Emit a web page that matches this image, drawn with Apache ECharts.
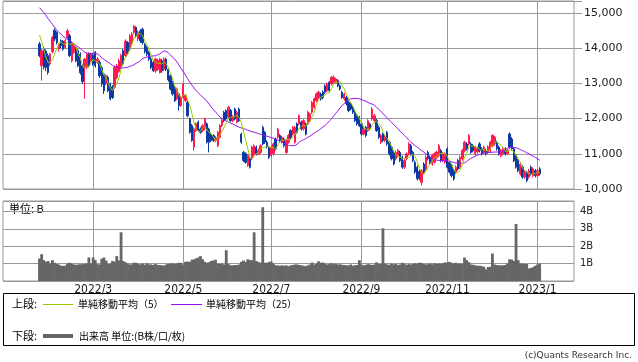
<!DOCTYPE html>
<html>
<head>
<meta charset="utf-8">
<script src="https://cdn.jsdelivr.net/npm/echarts@6/dist/echarts.min.js"></script>
<style>
html,body{margin:0;padding:0;background:#fff;}
#c{width:638px;height:362px;}
</style>
</head>
<body>
<div id="c"></div>
<script>
// ---- calendar (Tokyo trading days) ----
const axisStart = '2021-12-24';
const axisDays = 267;
const holidays = ['2021-12-31','2022-01-03','2022-01-10','2022-02-11','2022-02-23','2022-03-21','2022-04-29',
  '2022-05-03','2022-05-04','2022-05-05','2022-07-18','2022-08-11','2022-09-19','2022-09-23','2022-10-10',
  '2022-11-03','2022-11-23','2023-01-02','2023-01-03','2023-01-09'];
const tickLabels = ['2022/3','2022/5','2022/7','2022/9','2022/11','2023/1'];
const tickDates  = ['2022-03-01','2022-05-02','2022-07-01','2022-09-01','2022-11-01','2023-01-04'];
const dataStart = '2022-01-21';

// ---- daily values from 2022-01-21 to 2023-01-05 ----
const opens = [
14120,13500,13970,13920,13790,13550,13900,14510,14450,13980,
14210,14200,14020,14300,14350,13640,13880,14020,13930,13830,
13500,13450,13450,13830,13640,13790,13880,13600,13600,13450,
13260,12980,13170,12980,12900,12890,13170,13340,13450,13930,
13790,14160,13970,14160,14450,14590,14260,14490,14540,14100,
14020,13880,13690,13600,13360,13400,13310,13640,13400,13690,
13400,13220,13030,12890,12560,12700,12370,12600,12510,12460,
11990,11800,11190,11660,11900,11700,11660,11710,11850,11700,
11560,11520,11380,11230,11470,11800,12180,12230,12040,12230,
11940,12270,11900,12270,11560,11040,11000,10670,10860,10860,
10950,11190,11000,11040,11750,11610,11330,11190,10950,11000,
11420,11470,11520,11330,11420,11040,11330,11660,11560,11330,
11850,11850,11900,11710,11850,11850,11940,12180,12320,12510,
12600,12700,12750,12930,12790,13030,12980,13030,13030,13080,
12930,12750,12560,12600,12460,12420,12300,12180,12080,12040,
11850,11560,11750,11660,11850,11990,11940,11940,11750,11330,
11560,11380,11610,11330,11190,11040,10860,10950,11040,10900,
10620,10860,11000,11230,11040,10760,10620,10500,10190,10710,
10570,11040,10900,10710,10760,10900,10950,11090,10810,10760,
11140,10760,10670,10520,10480,10810,10620,10860,11090,11280,
11280,11280,11230,11000,11050,11280,11140,11040,11090,11040,
11090,11230,11280,11330,11190,10950,11000,11140,11000,11560,
11420,11140,10950,10810,10430,10620,10340,10480,10340,10620,
10380,10520,10380,10570];
const closes = [
13790,13930,13460,13450,13310,13830,14300,14260,14160,14120,
14070,13970,14210,14490,13790,14160,14070,13640,13500,13300,
13050,13690,13830,13500,13830,13550,13500,13690,13220,12980,
12790,13220,12790,12560,12600,13450,13500,13640,13790,13550,
14200,13880,14350,14400,14630,14350,14450,14210,14160,13900,
13830,13690,13450,13360,13690,13650,13690,13360,13690,13400,
13100,12840,12700,12510,12840,12370,12600,12980,12650,12080,
11610,11380,11700,11850,11660,11610,11800,11990,11330,11330,
11380,11380,11450,11610,11800,11950,11940,11990,12320,11940,
12050,11990,12180,11940,11330,10810,10760,10950,10620,11190,
11230,11000,11100,11230,11280,11330,11200,10900,11190,11280,
11140,11700,11380,11470,11230,11370,11520,11470,11750,11750,
11610,12080,11710,11940,11560,12180,12130,12460,12560,12700,
12750,12560,12600,12750,12980,12790,13170,13170,13120,12930,
12840,12600,12700,12420,12230,12270,12180,11940,11850,11800,
11560,11700,11520,11940,11710,12270,12080,11660,11470,11520,
11380,11500,11280,11000,10860,10710,11040,11090,10810,10620,
10810,11000,11280,11000,10810,10480,10290,10300,10520,10480,
10900,10860,10760,10950,11000,11050,11230,10810,11000,11000,
10620,10480,10380,10290,10620,10570,10900,11090,11330,11140,
11520,11040,11090,11190,11150,11090,11000,11190,11000,11200,
11330,11520,11470,11140,11000,11090,11140,11000,11100,11190,
11140,10800,10620,10520,10710,10340,10480,10240,10520,10430,
10570,10380,10520,10430];
const lows = [
13740,13080,13400,13350,13250,13500,13850,14200,14100,13900,
14000,13930,13980,14250,13750,13600,13840,13600,13460,13250,
12980,12560,13400,13450,13600,13500,13450,13550,13150,12900,
12700,12950,12750,12520,12560,12850,13120,13300,13400,13500,
13750,13830,13920,14100,14400,14300,14200,14150,14100,13850,
13780,13640,13400,13320,13300,13350,13280,13300,13350,13350,
13050,12800,12650,12470,12520,12230,12330,12560,12470,12040,
11570,11340,11090,11620,11620,11570,11620,11670,11290,11040,
11330,11330,11330,11190,11430,11760,11900,11950,12000,11900,
11900,11950,11860,11900,11280,10770,10720,10630,10580,10820,
10900,10950,10960,11000,11240,11280,11150,10850,10900,10950,
11100,11430,11340,11290,11180,11000,11290,11420,11520,11290,
11570,11810,11660,11660,11520,11810,11900,12130,12270,12460,
12560,12510,12550,12700,12750,12750,12940,12990,12990,12890,
12800,12560,12510,12370,12180,12230,12130,11900,11800,11760,
11520,11520,11470,11620,11660,11940,11900,11620,11420,11280,
11330,11330,11230,10950,10810,10670,10810,10900,10760,10570,
10570,10810,10950,10950,10760,10430,10240,10250,10100,10430,
10520,10810,10710,10660,10720,10860,10900,10760,10760,10720,
10580,10440,10330,10240,10430,10520,10570,10810,11040,11090,
11230,11000,11040,10950,11000,11040,10950,11000,10950,11000,
11040,11190,11230,11090,10950,10900,10950,10950,10960,11140,
11090,10760,10580,10480,10380,10290,10290,10190,10290,10380,
10330,10330,10330,10380];
const highs = [
14180,13970,14050,13960,13850,13870,14350,14560,14480,14150,
14250,14230,14250,14550,14400,14200,14110,14060,13970,13880,
13550,13720,13870,13880,13870,13830,13920,13750,13650,13500,
13300,13260,13220,13020,12950,13500,13550,13700,13840,13980,
14250,14200,14400,14450,14650,14620,14500,14540,14580,14150,
14060,13920,13750,13650,13730,13700,13720,13690,13740,13730,
13450,13260,13070,12930,12880,12740,12650,13020,12700,12500,
12030,11850,11750,11890,11940,11750,11840,12030,11890,11740,
11600,11560,11500,11650,11840,11990,12220,12260,12360,12270,
12100,12310,12220,12310,11600,11080,11040,10990,10900,11230,
11270,11230,11150,11270,11800,11650,11380,11230,11230,11320,
11460,11740,11560,11510,11460,11410,11560,11700,11790,11790,
11890,12120,11940,11980,11890,12220,12170,12500,12600,12740,
12790,12740,12800,12970,13020,13070,13210,13230,13160,13120,
12970,12790,12740,12640,12500,12460,12350,12220,12130,12080,
11890,11750,11790,11980,11890,12320,12130,11990,11800,11560,
11600,11540,11650,11370,11230,11090,11090,11140,11090,10950,
10860,11040,11330,11280,11090,10810,10670,10550,10570,10760,
10950,11090,10950,11000,11040,11090,11280,11140,11040,11040,
11180,10800,10720,10570,10670,10860,10950,11140,11370,11330,
11560,11330,11280,11230,11200,11330,11190,11230,11140,11240,
11370,11560,11510,11370,11230,11140,11190,11190,11150,11610,
11470,11190,11000,10860,10760,10670,10520,10520,10570,10670,
10620,10570,10570,10620];
// closes of the 4 sessions before the window (for the 5-day average)
const priorCloses = [14900,14600,14500,14100];
// 25-day simple moving average as drawn
const ma25 = [
15150,15080,15010,14930,14840,14760,14680,14600,14520,14450,
14400,14340,14290,14240,14200,14160,14120,14080,14030,13990,
13930,13890,13860,13850,13850,13850,13850,13840,13790,13730,
13680,13640,13600,13560,13510,13480,13460,13440,13440,13440,
13450,13460,13480,13500,13530,13570,13600,13650,13700,13730,
13750,13765,13775,13780,13785,13810,13840,13880,13920,13910,
13870,13810,13740,13690,13610,13520,13420,13330,13240,13130,
13030,12950,12870,12790,12730,12670,12610,12560,12490,12410,
12330,12260,12190,12120,12050,12000,11960,11930,11900,11870,
11845,11815,11785,11755,11735,11715,11695,11670,11650,11630,
11610,11595,11570,11555,11540,11520,11500,11480,11460,11440,
11420,11390,11360,11330,11300,11270,11240,11230,11230,11235,
11270,11330,11370,11400,11430,11470,11500,11550,11590,11630,
11660,11710,11760,11800,11860,11930,11990,12070,12150,12220,
12300,12370,12430,12480,12530,12560,12570,12575,12570,12560,
12540,12520,12490,12460,12430,12410,12380,12320,12270,12210,
12140,12080,12020,11950,11890,11830,11770,11710,11640,11580,
11520,11460,11390,11330,11280,11230,11190,11140,11090,11050,
11000,10960,10910,10870,10840,10820,10810,10805,10805,10805,
10805,10790,10770,10755,10740,10732,10730,10732,10745,10780,
10830,10870,10900,10930,10960,10980,11000,11015,11025,11035,
11040,11045,11050,11050,11060,11080,11095,11120,11150,11180,
11190,11180,11170,11150,11120,11090,11060,11030,11000,10960,
10930,10900,10860,10820];
// volume, billions
const volumes = [
1.29,1.54,1.2,1.1,1.15,1.0,1.2,1.05,0.98,0.95,
0.88,0.87,0.88,1.0,1.05,1.0,0.95,0.93,0.95,0.96,
0.97,0.98,1.0,1.35,1.0,1.35,1.2,0.97,0.95,1.28,
1.35,1.18,0.98,1.0,1.15,1.12,1.43,1.18,2.8,1.15,
1.08,1.0,0.95,0.96,1.05,1.05,0.98,0.95,1.0,0.94,
1.02,0.96,0.95,0.92,0.98,0.93,0.92,0.9,0.88,0.95,
0.98,1.0,1.0,0.97,1.0,1.05,1.03,0.95,1.1,1.12,
1.1,1.22,1.25,1.3,1.35,1.43,1.25,1.1,1.05,1.08,
1.15,1.18,1.22,1.0,0.98,1.0,0.95,1.77,0.97,0.9,
0.9,0.92,0.92,0.95,1.1,1.18,1.1,1.25,1.2,1.2,
2.8,1.15,1.08,1.06,4.24,1.05,1.05,1.1,1.12,1.0,
0.9,0.9,0.88,0.9,0.88,0.9,0.85,0.9,0.92,0.95,
0.95,0.92,0.9,0.88,0.85,0.9,0.95,1.06,0.95,0.98,
1.13,1.05,1.06,1.0,0.95,0.97,1.02,0.97,1.0,0.95,
0.96,0.93,0.92,0.9,0.9,0.95,0.88,0.9,0.92,1.2,
0.95,0.9,0.93,0.97,0.95,0.92,0.95,1.07,0.97,0.98,
3.03,1.0,0.95,0.93,1.0,0.96,0.98,0.92,0.95,1.05,
0.98,0.93,0.97,0.95,0.98,1.02,0.97,1.05,1.04,0.98,
0.95,0.97,1.0,0.96,1.02,0.98,1.0,0.97,1.03,1.07,
1.05,1.1,1.05,1.0,1.05,0.98,1.0,0.97,1.35,1.2,
1.08,0.95,0.93,0.9,0.88,0.88,0.85,0.82,0.67,0.8,
0.82,1.58,0.95,0.92,0.9,0.9,0.9,0.92,1.0,1.25,
1.23,1.15,3.28,1.2,1.0,1.0,0.98,0.98,0.72,0.75,
0.8,0.88,0.95,1.0];

// ---- build categories ----
function fmt(d){const m=d.getUTCMonth()+1, dd=d.getUTCDate();return d.getUTCFullYear()+'-'+(m<10?'0':'')+m+'-'+(dd<10?'0':'')+dd;}
const dates=[];
{let d=new Date(axisStart+'T00:00:00Z');
 while(dates.length<axisDays){const wd=d.getUTCDay();const s=fmt(d);
   if(wd!==0&&wd!==6&&holidays.indexOf(s)<0)dates.push(s);
   d=new Date(d.getTime()+86400000);}}
const off = dates.indexOf(dataStart);
function pad(arr){const out=new Array(dates.length).fill('-');arr.forEach((v,k)=>{out[off+k]=v;});return out;}
const allCloses = priorCloses.concat(closes);
const ma5 = closes.map((c,k)=>{let s=0;for(let j=k;j<k+5;j++)s+=allCloses[j];return Math.round(s/5);});
const candle = pad(opens.map((o,k)=>[o,closes[k],lows[k],highs[k]]));
const tickIdx = tickDates.map(t=>dates.indexOf(t));
const isTick = (i)=>tickIdx.indexOf(i)>=0;

const GRID='#999999';
const LABEL_FONT='"Liberation Sans Narrow","DejaVu Sans Condensed","Liberation Sans",sans-serif';
const chart = echarts.init(document.getElementById('c'), null, {renderer:'canvas'});
chart.setOption({
  animation:false,
  backgroundColor:'#ffffff',
  grid:[
    {left:3,right:64,top:1,height:188,show:true,borderColor:GRID,borderWidth:1,backgroundColor:'transparent'},
    {left:3,right:64,top:201,height:80,show:true,borderColor:GRID,borderWidth:1,backgroundColor:'transparent'}
  ],
  xAxis:[
    {type:'category',gridIndex:0,data:dates,boundaryGap:false,
     axisLine:{show:false},axisTick:{show:false},axisLabel:{show:false},
     splitLine:{show:true,interval:(i)=>isTick(i),lineStyle:{color:GRID,width:1}}},
    {type:'category',gridIndex:1,data:dates,boundaryGap:false,
     axisLine:{show:false},axisTick:{show:false},
     axisLabel:{show:true,interval:(i)=>isTick(i),margin:3,hideOverlap:false,
       formatter:(v)=>{const k=tickDates.indexOf(v);return k>=0?tickLabels[k]:'';},
       fontFamily:LABEL_FONT,fontSize:12,color:'#222'},
     splitLine:{show:true,interval:(i)=>isTick(i),lineStyle:{color:GRID,width:1}}}
  ],
  yAxis:[
    {type:'value',gridIndex:0,position:'right',min:10000,max:15340,interval:1000,scale:true,
     axisLine:{show:false},
     axisTick:{show:true,length:8,lineStyle:{color:GRID}},
     axisLabel:{margin:10,fontFamily:'DejaVu Sans',fontSize:11,color:'#222',
       formatter:(v)=>v%1000===0?v.toLocaleString('en-US'):''},
     splitLine:{show:true,lineStyle:{color:GRID,width:1}}},
    {type:'value',gridIndex:1,position:'right',min:0,max:4.6,interval:1,
     axisLine:{show:false},axisTick:{show:false},
     axisLabel:{margin:6,fontFamily:'DejaVu Sans',fontSize:10,color:'#222',
       formatter:(v)=>(v>0&&Math.abs(v-Math.round(v))<1e-9)?Math.round(v)+'B':''},
     splitLine:{show:true,lineStyle:{color:GRID,width:1}}}
  ],
  series:[
    {type:'candlestick',xAxisIndex:0,yAxisIndex:0,data:candle,barWidth:1.8,
     itemStyle:{color:'#ff1a4f',color0:'#0b3aa3',borderColor:'#ff1a4f',borderColor0:'#0b3aa3',borderWidth:1}},
    {type:'line',xAxisIndex:0,yAxisIndex:0,data:pad(ma25),symbol:'none',
     lineStyle:{color:'#9b10f5',width:1},itemStyle:{color:'#9b10f5'}},
    {type:'line',xAxisIndex:0,yAxisIndex:0,data:pad(ma5),symbol:'none',
     lineStyle:{color:'#99cc00',width:1},itemStyle:{color:'#99cc00'}},
    {type:'bar',xAxisIndex:1,yAxisIndex:1,data:pad(volumes),barWidth:2.8,
     itemStyle:{color:'#666666'}}
  ],
  graphic:[
    {type:'text',left:9,top:203,style:{text:'単位: B',font:'11px "Noto Sans CJK JP"',fill:'#000'}},
    {type:'rect',shape:{x:3.5,y:293.5,width:631,height:52},style:{fill:'none',stroke:'#000',lineWidth:1}},
    {type:'text',x:12,y:304,style:{text:'上段:',font:'11px "Noto Sans CJK JP"',fill:'#000',verticalAlign:'middle'}},
    {type:'line',shape:{x1:43,y1:304.5,x2:73,y2:304.5},style:{stroke:'#99cc00',lineWidth:1}},
    {type:'text',x:78,y:304,style:{text:'単純移動平均（5）',font:'10px "Noto Sans CJK JP"',fill:'#000',verticalAlign:'middle'}},
    {type:'line',shape:{x1:171,y1:304.5,x2:202,y2:304.5},style:{stroke:'#9b10f5',lineWidth:1}},
    {type:'text',x:206,y:304,style:{text:'単純移動平均（25）',font:'10px "Noto Sans CJK JP"',fill:'#000',verticalAlign:'middle'}},
    {type:'text',x:12,y:336,style:{text:'下段:',font:'11px "Noto Sans CJK JP"',fill:'#000',verticalAlign:'middle'}},
    {type:'line',shape:{x1:43,y1:336,x2:73,y2:336},style:{stroke:'#666666',lineWidth:4}},
    {type:'text',x:79,y:336,style:{text:'出来高 単位:(B株/口/枚)',font:'10px "Noto Sans CJK JP"',fill:'#000',verticalAlign:'middle'}},
    {type:'text',x:632,y:356,style:{text:'(c)Quants Research Inc.',font:'9px "DejaVu Sans"',fill:'#333',align:'right',verticalAlign:'middle'}}
  ]
});
</script>
</body>
</html>
